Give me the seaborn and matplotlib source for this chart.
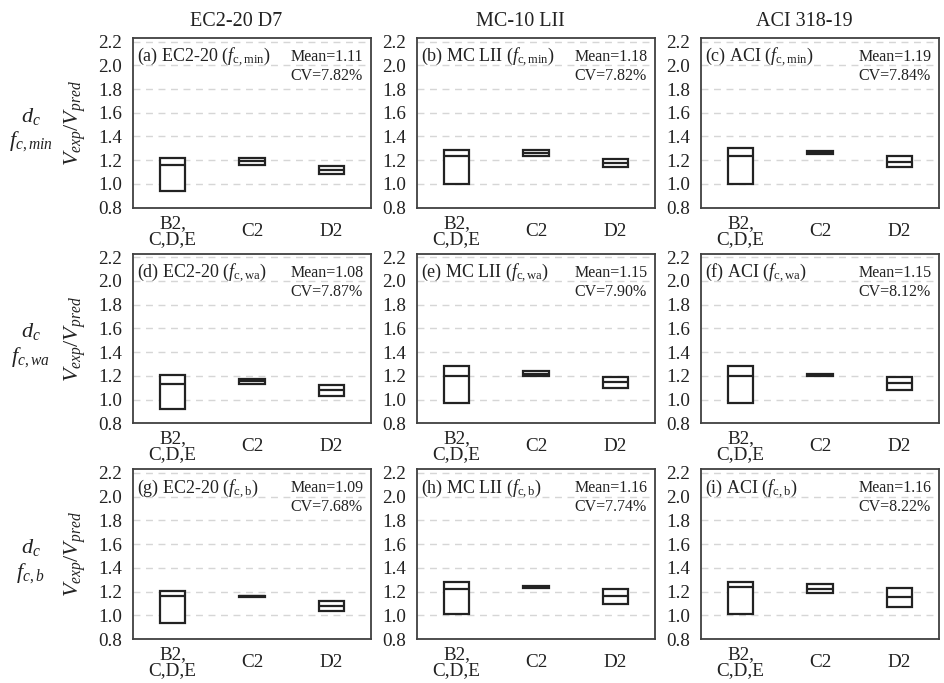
import numpy as np
import pandas as pd
import matplotlib
matplotlib.use("Agg")
import matplotlib.pyplot as plt
import seaborn as sns

# ---------------- data ----------------
categories = ["B2,\nC,D,E", "C2", "D2"]
col_titles = ["EC2-20 D7", "MC-10 LII", "ACI 318-19"]
row_strength = ["c,min", "c,wa", "c,b"]

# (low, median, high) box values per category for each panel
panel_a = [(0.941, 1.156, 1.215), (1.158, 1.190, 1.221), (1.082, 1.115, 1.148)]
panel_b = [(0.997, 1.238, 1.283), (1.232, 1.260, 1.286), (1.145, 1.179, 1.212)]
panel_c = [(1.003, 1.238, 1.301), (1.252, 1.265, 1.281), (1.142, 1.189, 1.232)]
panel_d = [(0.919, 1.128, 1.208), (1.132, 1.153, 1.173), (1.034, 1.080, 1.125)]
panel_e = [(0.974, 1.196, 1.287), (1.201, 1.220, 1.239), (1.099, 1.145, 1.193)]
panel_f = [(0.971, 1.199, 1.287), (1.200, 1.210, 1.220), (1.077, 1.137, 1.193)]
panel_g = [(0.939, 1.159, 1.208), (1.153, 1.159, 1.165), (1.037, 1.080, 1.124)]
panel_h = [(1.010, 1.224, 1.279), (1.228, 1.236, 1.244), (1.095, 1.159, 1.224)]
panel_i = [(1.012, 1.242, 1.282), (1.190, 1.224, 1.261), (1.066, 1.154, 1.234)]

panels = [panel_a, panel_b, panel_c, panel_d, panel_e, panel_f, panel_g, panel_h, panel_i]
panel_letters = ["a", "b", "c", "d", "e", "f", "g", "h", "i"]
code_names = ["EC2-20", "MC LII", "ACI"]
means = ["1.11", "1.18", "1.19", "1.08", "1.15", "1.15", "1.09", "1.16", "1.16"]
cvs = ["7.82%", "7.82%", "7.84%", "7.87%", "7.90%", "8.12%", "7.68%", "7.74%", "8.22%"]
yticks = [0.8, 1.0, 1.2, 1.4, 1.6, 1.8, 2.0, 2.2]

# ---------------- style ----------------
sns.set_theme(style="white")
plt.rcParams["font.family"] = ["Liberation Serif", "DejaVu Serif"]
plt.rcParams["mathtext.fontset"] = "custom"
plt.rcParams["mathtext.rm"] = "Liberation Serif"
plt.rcParams["mathtext.it"] = "Liberation Serif:italic"
plt.rcParams["mathtext.bf"] = "Liberation Serif:bold"

ink = "#222222"
fig, axes = plt.subplots(3, 3, figsize=(9.44, 6.83), dpi=100)
fig.subplots_adjust(left=0.1409, right=0.9947, top=0.9444, bottom=0.0644,
                    wspace=0.193, hspace=0.271)

for k, ax in enumerate(axes.flat):
    r, c = divmod(k, 3)
    rows = []
    for cat, (lo, med, hi) in zip(categories, panels[k]):
        for v in (lo, lo, med, hi, hi):
            rows.append({"cat": cat, "val": v})
    df = pd.DataFrame(rows)
    sns.boxplot(data=df, x="cat", y="val", order=categories, ax=ax,
                color="white", linecolor=ink, linewidth=1.6, width=0.32,
                whis=0, showfliers=False, showcaps=False)
    ax.set_ylim(0.8, 2.23)
    ax.set_xlim(-0.5, 2.5)
    ax.set_yticks(yticks)
    ax.set_yticklabels([f"{t:.1f}" for t in yticks])
    ax.yaxis.grid(True, color="#d6d6d6", linestyle=(0, (5, 4)), linewidth=1.0)
    ax.set_axisbelow(True)
    ax.set_xlabel("")
    ax.set_ylabel("")
    ax.tick_params(axis="y", length=0, labelsize=13.8, pad=8, colors=ink)
    ax.tick_params(axis="x", length=0, labelsize=13.8, pad=17, colors=ink)
    for lab in ax.get_xticklabels():
        lab.set_va("center")
        lab.set_linespacing(0.92)
    for s in ax.spines.values():
        s.set_color("#404040")
        s.set_linewidth(1.3)
        s.set_visible(True)

    ax.text(0.017, 0.888,
            f"({panel_letters[k]}) {code_names[c]} ($f_{{\\mathrm{{{row_strength[r]}}}}}$)",
            transform=ax.transAxes, ha="left", va="center", fontsize=13, color=ink)
    ax.text(0.663, 0.888, f"Mean={means[k]}", transform=ax.transAxes,
            ha="left", va="center", fontsize=11.5, color=ink)
    ax.text(0.663, 0.776, f"CV={cvs[k]}", transform=ax.transAxes,
            ha="left", va="center", fontsize=11.5, color=ink)

    if r == 0:
        ax.text(0.435, 1.10, col_titles[c], transform=ax.transAxes,
                ha="center", va="center", fontsize=14.5, color=ink)
    if c == 0:
        ax.set_ylabel(r"$V_{exp}/V_{pred}$", fontsize=16, color=ink)
        ax.yaxis.set_label_coords(-0.19, 0.5)
        ax.text(-0.43, 0.54, r"$d_c$", transform=ax.transAxes,
                ha="center", va="center", fontsize=16, color=ink)
        ax.text(-0.43, 0.39, f"$f_{{{row_strength[r]}}}$", transform=ax.transAxes,
                ha="center", va="center", fontsize=16, color=ink)

fig.savefig("out.png", dpi=100)
